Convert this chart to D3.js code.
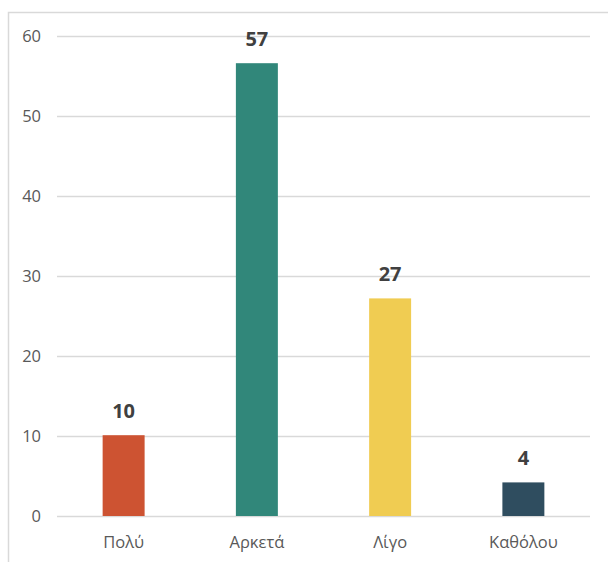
<!DOCTYPE html>
<html>
<head>
<meta charset="utf-8">
<script src="https://cdn.jsdelivr.net/npm/d3@7"></script>
<style>
  html, body { margin: 0; padding: 0; background: #fff; }
  svg { display: block; }
</style>
</head>
<body>
<svg width="608" height="562"></svg>
<script>
const categories = ["Πολύ", "Αρκετά", "Λίγο", "Καθόλου"];
const values = [10.1, 56.6, 27.2, 4.2];
const barColors = ["#CD5332", "#31877A", "#F0CC52", "#2F4D5F"];
const yTickValues = [0, 10, 20, 30, 40, 50, 60];

const margin = { top: 36, right: 18, bottom: 46, left: 57 };
const width = 608 - margin.left - margin.right;
const height = 562 - margin.top - margin.bottom;

const root = d3.select("svg");

// outer frame of the chart area
root.append("rect")
    .attr("x", 8.5).attr("y", 12.5)
    .attr("width", 640).attr("height", 600)
    .attr("fill", "none")
    .attr("stroke", "#d9d9d9")
    .attr("stroke-width", 1.5);

const svg = root.append("g")
    .attr("transform", `translate(${margin.left}, ${margin.top})`);

const x = d3.scaleBand()
    .domain(categories)
    .range([0, width])
    .paddingInner(0.685)
    .paddingOuter(0.3425);

const y = d3.scaleLinear()
    .domain([0, 60])
    .range([height, 0]);

// gridlines + y labels
const yAxis = svg.append("g")
    .attr("class", "grid")
    .call(d3.axisLeft(y)
        .tickValues(yTickValues)
        .tickSize(-width)
        .tickPadding(16));

yAxis.select(".domain").remove();
yAxis.selectAll("line")
    .attr("stroke", "#d9d9d9")
    .attr("stroke-width", 1.5);
yAxis.selectAll("text")
    .attr("fill", "#595959")
    .style("font-family", "'Open Sans', sans-serif")
    .style("font-size", "16.5px");

// category labels
const xAxis = svg.append("g")
    .attr("transform", `translate(0,${height})`)
    .call(d3.axisBottom(x).tickSize(0).tickPadding(20));

xAxis.select(".domain").remove();
xAxis.selectAll("text")
    .attr("fill", "#595959")
    .style("font-family", "'Open Sans', sans-serif")
    .style("font-size", "16.5px");

const data = categories.map((c, i) => ({ cat: c, value: values[i], color: barColors[i] }));

svg.selectAll(".bar")
    .data(data)
    .join("rect")
    .attr("class", "bar")
    .attr("x", d => x(d.cat))
    .attr("y", d => y(d.value))
    .attr("width", x.bandwidth())
    .attr("height", d => height - y(d.value))
    .attr("fill", d => d.color);

svg.selectAll(".label")
    .data(data)
    .join("text")
    .attr("class", "label")
    .attr("x", d => x(d.cat) + x.bandwidth() / 2)
    .attr("y", d => y(d.value) - 17)
    .attr("text-anchor", "middle")
    .attr("fill", "#404040")
    .style("font-family", "'Open Sans', sans-serif")
    .style("font-weight", "700")
    .style("font-size", "20px")
    .text(d => d3.format(".0f")(d.value));
</script>
</body>
</html>
